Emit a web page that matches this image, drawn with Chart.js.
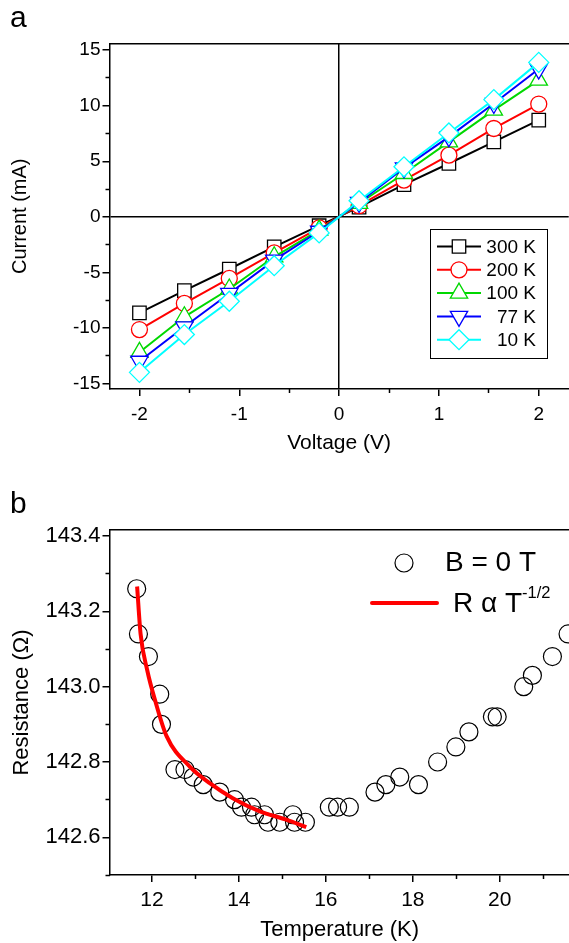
<!DOCTYPE html>
<html>
<head>
<meta charset="utf-8">
<script src="https://cdn.jsdelivr.net/npm/chart.js@4.4.1/dist/chart.umd.min.js"></script>
<style>
  html, body { margin: 0; padding: 0; background: #fff; }
  body { width: 569px; height: 943px; overflow: hidden; position: relative; font-family: 'Liberation Sans', Arial, sans-serif; }
  .panel { position: absolute; left: 0; width: 580px; }
  #wrapA { top: 0; height: 470px; }
  #wrapB { top: 470px; height: 473px; }
  .tag { position: absolute; left: 10px; font-size: 30px; line-height: 1; color: #000; }
</style>
</head>
<body>
<div class="panel" id="wrapA"><canvas id="ivChart" width="580" height="470"></canvas></div>
<div class="panel" id="wrapB"><canvas id="rtChart" width="580" height="473"></canvas></div>
<div class="tag" style="top:2px">a</div>
<div class="tag" style="top:488px">b</div>
<script>
// panel a: I-V curves
const voltage = [-2, -1.55, -1.1, -0.65, -0.2, 0.2, 0.65, 1.1, 1.55, 2];
const i300K = [-8.65, -6.65, -4.7, -2.7, -0.8, 0.87, 2.9, 4.8, 6.75, 8.7];
const i200K = [-10.15, -7.8, -5.55, -3.25, -1.0, 1.0, 3.3, 5.55, 7.95, 10.15];
const i100K = [-12.2, -9.0, -6.5, -3.6, -1.2, 1.2, 3.9, 6.75, 9.6, 12.3];
const i77K = [-13.0, -9.9, -6.9, -3.9, -1.3, 1.3, 4.4, 7.2, 10.2, 13.3];
const i10K = [-14.0, -10.6, -7.6, -4.4, -1.45, 1.45, 4.5, 7.55, 10.55, 13.9];
const ivLabels = ['300 K', '200 K', '100 K', '77 K', '10 K'];
const ivXTicks = [-2, -1, 0, 1, 2];
const ivXMinor = [-1.5, -0.5, 0.5, 1.5];
const ivYTicks = [-15, -10, -5, 0, 5, 10, 15];
const ivYMinor = [-12.5, -7.5, -2.5, 2.5, 7.5, 12.5];

// panel b: R(T)
const temperature = [11.65, 11.69, 11.92, 12.18, 12.22, 12.53, 12.76, 12.95, 13.18, 13.56, 13.9, 14.06,
  14.29, 14.36, 14.59, 14.67, 14.94, 15.24, 15.28, 15.53, 16.08, 16.27, 16.54, 17.13, 17.38, 17.70,
  18.13, 18.57, 18.99, 19.29, 19.83, 19.94, 20.55, 20.75, 21.21, 21.57];
const resistance = [143.26, 143.14, 143.08, 142.98, 142.90, 142.78, 142.78, 142.76, 142.74, 142.72, 142.70, 142.68,
  142.68, 142.66, 142.66, 142.64, 142.64, 142.66, 142.64, 142.64, 142.68, 142.68, 142.68, 142.72, 142.74, 142.76,
  142.74, 142.80, 142.84, 142.88, 142.92, 142.92, 143.00, 143.03, 143.08, 143.14];
const fitT = [11.66, 11.74, 11.89, 12.09, 12.34, 12.87, 13.33, 13.86, 14.48, 15.09, 15.55];
const fitR = [143.266, 143.14, 143.045, 142.957, 142.868, 142.788, 142.744, 142.704, 142.669, 142.647, 142.627];
const rtXTicks = [12, 14, 16, 18, 20];
const rtXMinor = [13, 15, 17, 19, 21];
const rtYTicks = [142.6, 142.8, 143.0, 143.2, 143.4];
const rtYMinor = [142.5, 142.7, 142.9, 143.1, 143.3];

Chart.defaults.font.family = "'Liberation Sans', Arial, sans-serif";
Chart.defaults.color = '#000';

const pts = (xs, ys) => xs.map((x, i) => ({ x: x, y: ys[i] }));
const setTicks = arr => s => { s.ticks = arr.map(v => ({ value: v })); };

// major axis (labels, long ticks) + minor axis (short ticks, no size)
function majorAxis(pos, min, max, ticks, size, fmt, tickFont, tickPad, title, titleFont, titlePad, zeroLine) {
  const horiz = pos === 'bottom';
  return {
    type: 'linear', position: pos, min: min, max: max, weight: 1,
    afterBuildTicks: setTicks(ticks),
    afterFit: s => { if (horiz) s.height = size; else s.width = size; },
    grid: {
      drawOnChartArea: zeroLine,
      color: c => (zeroLine && c.tick && c.tick.value === 0) ? '#000' : 'rgba(0,0,0,0)',
      lineWidth: 1.5, tickColor: '#000', tickLength: 7, tickWidth: 1.5
    },
    border: { color: '#000', width: 1.5 },
    ticks: { padding: tickPad, font: { size: tickFont }, maxRotation: 0, callback: fmt },
    title: { display: true, text: title, font: { size: titleFont }, padding: horiz ? { bottom: titlePad } : { top: titlePad } }
  };
}
function minorAxis(pos, min, max, ticks) {
  return {
    type: 'linear', position: pos, min: min, max: max, weight: 0,
    afterBuildTicks: setTicks(ticks),
    afterFit: s => { if (pos === 'bottom') s.height = 0; else s.width = 0; },
    grid: { drawOnChartArea: false, tickColor: '#000', tickLength: 4, tickWidth: 1.5 },
    border: { display: false },
    ticks: { callback: () => '' }
  };
}
function topBorder(min, max) {
  return {
    type: 'linear', position: 'top', min: min, max: max,
    afterBuildTicks: s => { s.ticks = []; },
    afterFit: s => { s.height = 0; },
    grid: { drawOnChartArea: false, drawTicks: false },
    border: { color: '#000', width: 1.5 },
    ticks: { display: false }
  };
}

const ivSeries = [
  { label: ivLabels[0], data: i300K, color: '#000000', style: 'rect', radius: 9.5, rot: 0 },
  { label: ivLabels[1], data: i200K, color: '#ff0000', style: 'circle', radius: 8, rot: 0 },
  { label: ivLabels[2], data: i100K, color: '#00d800', style: 'triangle', radius: 10, rot: 0 },
  { label: ivLabels[3], data: i77K, color: '#0000ff', style: 'triangle', radius: 10, rot: 180 },
  { label: ivLabels[4], data: i10K, color: '#00ffff', style: 'rectRot', radius: 10, rot: 0 }
];

const ivLegend = {
  id: 'ivLegend',
  afterDatasetsDraw(chart) {
    const ctx = chart.ctx;
    const x0 = 430, y0 = 229, w = 117, h = 129;
    ctx.save();
    ctx.fillStyle = '#fff';
    ctx.fillRect(x0, y0, w, h);
    ctx.strokeStyle = '#000';
    ctx.lineWidth = 1;
    ctx.strokeRect(x0 + 0.5, y0 + 0.5, w, h);
    chart.data.datasets.forEach((ds, i) => {
      const y = y0 + 17.5 + i * 23.3;
      ctx.strokeStyle = ds.borderColor;
      ctx.lineWidth = 2;
      ctx.beginPath();
      ctx.moveTo(x0 + 7, y);
      ctx.lineTo(x0 + 51, y);
      ctx.stroke();
      ctx.fillStyle = '#fff';
      ctx.lineWidth = ds.pointBorderWidth;
      Chart.helpers.drawPoint(ctx, { pointStyle: ds.pointStyle, radius: ds.pointRadius, rotation: ds.pointRotation, borderWidth: ds.pointBorderWidth }, x0 + 29, y);
      ctx.fillStyle = '#000';
      ctx.font = "19px 'Liberation Sans', Arial, sans-serif";
      ctx.textAlign = 'right';
      ctx.textBaseline = 'middle';
      ctx.fillText(ds.label, x0 + 106, y + 1);
    });
    ctx.restore();
  }
};

new Chart(document.getElementById('ivChart'), {
  type: 'scatter',
  data: {
    datasets: ivSeries.map((s, i) => ({
      label: s.label,
      data: pts(voltage, s.data),
      showLine: true,
      borderColor: s.color,
      borderWidth: 2,
      pointStyle: s.style,
      pointRadius: s.radius,
      pointRotation: s.rot,
      pointBorderWidth: 1.3,
      pointBorderColor: s.color,
      pointBackgroundColor: '#fff',
      order: ivSeries.length - i
    }))
  },
  options: {
    responsive: false,
    animation: false,
    devicePixelRatio: 1,
    layout: { padding: { top: 43.5, right: 9, left: 0, bottom: 0 } },
    plugins: { legend: { display: false }, tooltip: { enabled: false } },
    scales: {
      xMinor: minorAxis('bottom', -2.3, 2.3, ivXMinor),
      x: majorAxis('bottom', -2.3, 2.3, ivXTicks, 81, v => String(v), 19, 7.6, 'Voltage (V)', 21, 14.4, true),
      yMinor: minorAxis('left', -15.5, 15.6, ivYMinor),
      y: majorAxis('left', -15.5, 15.6, ivYTicks, 109.5, v => String(v), 19, 2, 'Current (mA)', 20, 8, true),
      xTop: topBorder(-2.3, 2.3)
    }
  },
  plugins: [ivLegend]
});

const rtLegend = {
  id: 'rtLegend',
  afterDatasetsDraw(chart) {
    const ctx = chart.ctx;
    const circ = chart.data.datasets[1];
    const fit = chart.data.datasets[0];
    ctx.save();
    ctx.strokeStyle = circ.pointBorderColor;
    ctx.fillStyle = 'rgba(0,0,0,0)';
    ctx.lineWidth = circ.pointBorderWidth;
    Chart.helpers.drawPoint(ctx, { pointStyle: 'circle', radius: circ.pointRadius, borderWidth: circ.pointBorderWidth }, 404, 93);
    ctx.fillStyle = '#000';
    ctx.font = "28px 'Liberation Sans', Arial, sans-serif";
    ctx.textAlign = 'left';
    ctx.textBaseline = 'middle';
    ctx.fillText(circ.label, 445, 93);
    ctx.strokeStyle = fit.borderColor;
    ctx.lineWidth = fit.borderWidth;
    ctx.lineCap = 'round';
    ctx.beginPath();
    ctx.moveTo(372, 133);
    ctx.lineTo(437, 133);
    ctx.stroke();
    const main = 'R \u03b1 T';
    ctx.fillText(main, 453, 134);
    const wMain = ctx.measureText(main).width;
    ctx.font = "16.5px 'Liberation Sans', Arial, sans-serif";
    ctx.fillText('-1/2', 453 + wMain, 123);
    ctx.restore();
  }
};

new Chart(document.getElementById('rtChart'), {
  type: 'scatter',
  data: {
    datasets: [
      {
        label: 'R \u03b1 T-1/2',
        data: pts(fitT, fitR),
        showLine: true,
        borderColor: '#ff0000',
        borderWidth: 4,
        cubicInterpolationMode: 'monotone',
        pointRadius: 0,
        order: 0
      },
      {
        label: 'B = 0 T',
        data: pts(temperature, resistance),
        showLine: false,
        pointStyle: 'circle',
        pointRadius: 9,
        pointBorderWidth: 1.2,
        pointBorderColor: '#000',
        pointBackgroundColor: 'rgba(0,0,0,0)',
        order: 1
      }
    ]
  },
  options: {
    responsive: false,
    animation: false,
    devicePixelRatio: 1,
    layout: { padding: { top: 60, right: 9, left: 0, bottom: 0 } },
    plugins: { legend: { display: false }, tooltip: { enabled: false } },
    scales: {
      xMinor: minorAxis('bottom', 11.025, 21.61, rtXMinor),
      x: majorAxis('bottom', 11.025, 21.61, rtXTicks, 68, v => String(v), 21, 5.4, 'Temperature (K)', 22, 0, false),
      yMinor: minorAxis('left', 142.5, 143.416, rtYMinor),
      y: majorAxis('left', 142.5, 143.416, rtYTicks, 109.5, v => v.toFixed(1), 22, 2, 'Resistance (\u03a9)', 22, 8.8, false),
      xTop: topBorder(11.025, 21.61)
    }
  },
  plugins: [rtLegend]
});
</script>
</body>
</html>
